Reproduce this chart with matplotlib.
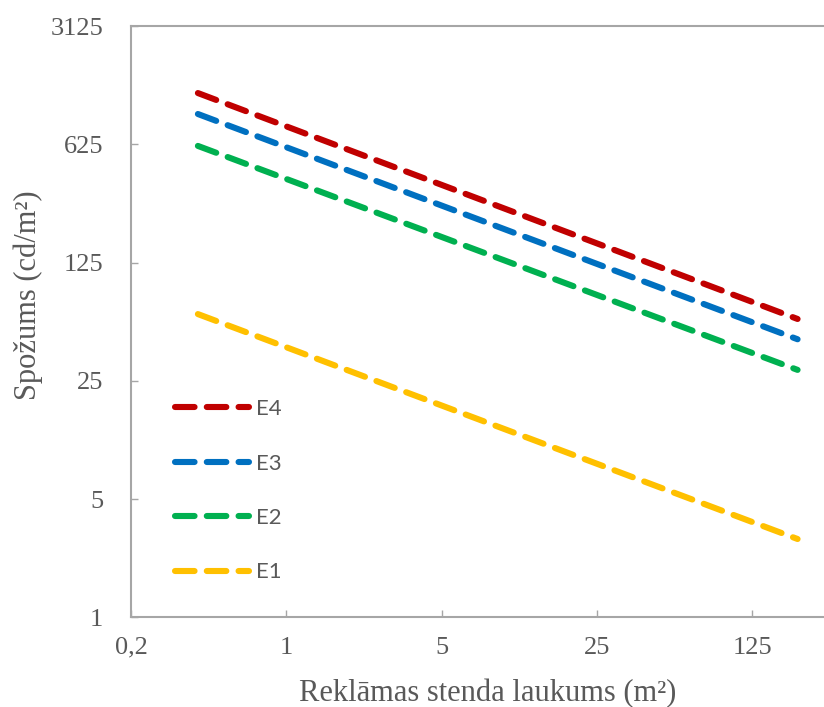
import matplotlib
matplotlib.use("Agg")
import matplotlib.pyplot as plt
from matplotlib.ticker import FixedLocator, NullLocator

# platība (m2) un spožums (cd/m2) katrai līknei, nolasīts no attēla
area = [0.4, 200]
e4 = [1257, 58]
e3 = [945, 44]
e2 = [612, 29]
e1 = [62, 2.9]

series = [("E4", e4, "#C00000"), ("E3", e3, "#0070C0"),
          ("E2", e2, "#00B050"), ("E1", e1, "#FFC000")]

x_ticks = [0.2, 1, 5, 25, 125]
x_labels = ["0,2", "1", "5", "25", "125"]
y_ticks = [1, 5, 25, 125, 625, 3125]
y_labels = ["1", "5", "25", "125", "625", "3125"]

fig = plt.figure(figsize=(8.24, 7.07), dpi=100)
ax = fig.add_axes([0.159, 0.127, 0.841, 0.836])

for name, vals, col in series:
    ax.plot(area, vals, color=col, lw=4.4, dashes=(3.2, 2.0),
            dash_capstyle="round", label=name)

ax.set_xscale("log", base=5)
ax.set_yscale("log", base=5)
ax.set_xlim(0.2, 263)
ax.set_ylim(1, 3125)

ax.xaxis.set_major_locator(FixedLocator(x_ticks))
ax.yaxis.set_major_locator(FixedLocator(y_ticks))
ax.xaxis.set_minor_locator(NullLocator())
ax.yaxis.set_minor_locator(NullLocator())
ax.set_xticklabels(x_labels)
ax.set_yticklabels(y_labels)

grey = "#A6A6A6"
for s in ["left", "bottom", "top"]:
    ax.spines[s].set_color(grey)
    ax.spines[s].set_linewidth(1.5)
ax.spines["right"].set_visible(False)

ax.tick_params(direction="in", length=5, width=1, color=grey,
               labelcolor="#595959", labelsize=19, pad=14)
ax.tick_params(axis="y", pad=20)
for lbl in ax.get_xticklabels() + ax.get_yticklabels():
    lbl.set_fontfamily("Liberation Serif")

ax.set_xlabel("Reklāmas stenda laukums (m²)", fontsize=22, color="#595959",
              family="Liberation Serif")
ax.xaxis.set_label_coords(0.515, -0.105)
ax.set_ylabel("Spožums (cd/m²)", fontsize=22, color="#595959",
              family="Liberation Serif")
ax.yaxis.set_label_coords(-0.127, 0.545)

leg = ax.legend(loc="lower left", bbox_to_anchor=(0.035, 0.025), frameon=False,
                handlelength=3.3, handletextpad=0.35, labelspacing=1.55,
                prop={"family": "Lato", "size": 16})
for t in leg.get_texts():
    t.set_color("#595959")

fig.savefig("out.png", dpi=100)
